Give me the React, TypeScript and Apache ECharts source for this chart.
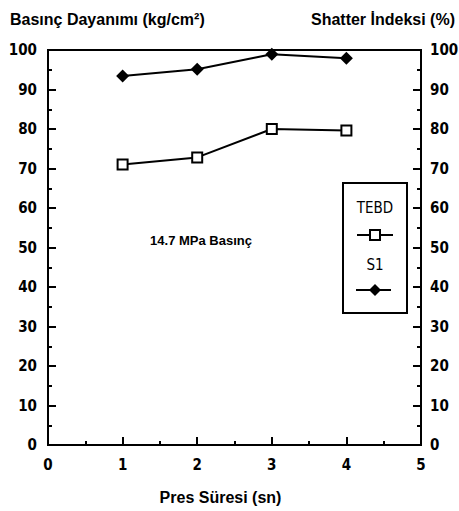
import React, { useEffect, useRef } from "react";
import * as echarts from "echarts";

const pressTimes = [1, 2, 3, 4];
const tebdValues = [71, 72.8, 80, 79.6];
const s1Values = [93.4, 95.1, 98.9, 97.9];
const leftTitle = "Basınç Dayanımı (kg/cm²)";
const rightTitle = "Shatter İndeksi (%)";
const xTitle = "Pres Süresi (sn)";
const noteText = "14.7 MPa Basınç";
const seriesNames = ["TEBD", "S1"];

const numFont = "'Liberation Sans Narrow', 'DejaVu Sans Condensed', sans-serif";
const titleFont = "'Liberation Sans', Arial, sans-serif";

export default function App() {
  const ref = useRef<HTMLDivElement>(null);
  useEffect(() => {
    if (!ref.current) return;
    const chart = echarts.init(ref.current, null, { renderer: "svg" });
    const axisLabel = { color: "#000", fontFamily: numFont, fontWeight: "bold", fontSize: 15 };
    const yCommon = {
      type: "value",
      min: 0,
      max: 100,
      interval: 10,
      axisLine: { show: true, lineStyle: { color: "#000", width: 2 } },
      axisTick: { show: true, inside: true, length: 8, lineStyle: { color: "#000", width: 2 } },
      minorTick: { show: true, splitNumber: 2, length: 4, lineStyle: { color: "#000", width: 2 } },
      splitLine: { show: false },
    };
    chart.setOption({
      animation: false,
      backgroundColor: "#fff",
      grid: {
        left: 48, right: 38, top: 50, bottom: 66,
        outerBoundsMode: "none", containLabel: false,
        show: true, borderColor: "#000", borderWidth: 2,
      },
      xAxis: {
        type: "value",
        min: 0,
        max: 5,
        interval: 1,
        name: xTitle,
        nameLocation: "middle",
        nameGap: 44,
        nameTextStyle: { color: "#000", fontFamily: titleFont, fontWeight: "bold", fontSize: 16, padding: [0, 28, 0, 0] },
        axisLine: { lineStyle: { color: "#000", width: 2 } },
        axisTick: { inside: true, length: 8, lineStyle: { color: "#000", width: 2 } },
        minorTick: { show: true, splitNumber: 2, length: 4, lineStyle: { color: "#000", width: 2 } },
        splitLine: { show: false },
        axisLabel: { ...axisLabel, margin: 12 },
      },
      yAxis: [
        { ...yCommon, position: "left", axisLabel: { ...axisLabel, margin: 11 } },
        { ...yCommon, position: "right", axisLabel: { ...axisLabel, margin: 9 } },
      ],
      series: [
        {
          name: seriesNames[0],
          type: "line",
          yAxisIndex: 0,
          data: pressTimes.map((t, i) => [t, tebdValues[i]]),
          symbol: "rect",
          symbolSize: 10,
          itemStyle: { color: "#fff", borderColor: "#000", borderWidth: 2 },
          lineStyle: { color: "#000", width: 2 },
        },
        {
          name: seriesNames[1],
          type: "line",
          yAxisIndex: 1,
          data: pressTimes.map((t, i) => [t, s1Values[i]]),
          symbol: "diamond",
          symbolSize: 13,
          itemStyle: { color: "#000", borderColor: "#000", borderWidth: 0 },
          lineStyle: { color: "#000", width: 2 },
        },
      ],
      graphic: [
        { type: "text", left: 10, top: 11, style: { text: leftTitle, fill: "#000", font: `bold 16px ${titleFont}` } },
        { type: "text", right: 4, top: 11, style: { text: rightTitle, fill: "#000", font: `bold 16px ${titleFont}` } },
        { type: "text", x: 201, y: 240, style: { text: noteText, fill: "#000", font: `bold 13px ${titleFont}`, align: "center", verticalAlign: "middle" } },
        { type: "rect", shape: { x: 343, y: 183, width: 64, height: 130 }, style: { fill: "#fff", stroke: "#000", lineWidth: 2 } },
        { type: "text", x: 375, y: 208, style: { text: seriesNames[0], fill: "#000", font: `15px ${numFont}`, align: "center", verticalAlign: "middle" } },
        { type: "line", shape: { x1: 357, y1: 235, x2: 393, y2: 235 }, style: { stroke: "#000", lineWidth: 2 } },
        { type: "rect", shape: { x: 370, y: 230, width: 10, height: 10 }, style: { fill: "#fff", stroke: "#000", lineWidth: 2 } },
        { type: "text", x: 375, y: 265, style: { text: seriesNames[1], fill: "#000", font: `15px ${numFont}`, align: "center", verticalAlign: "middle" } },
        { type: "line", shape: { x1: 356, y1: 290, x2: 391, y2: 290 }, style: { stroke: "#000", lineWidth: 2 } },
        { type: "polygon", shape: { points: [[375, 284], [381, 290], [375, 296], [369, 290]] }, style: { fill: "#000" } },
      ],
    });
    return () => chart.dispose();
  }, []);
  return <div ref={ref} style={{ position: "fixed", left: 0, top: 0, width: 459, height: 511 }} />;
}
